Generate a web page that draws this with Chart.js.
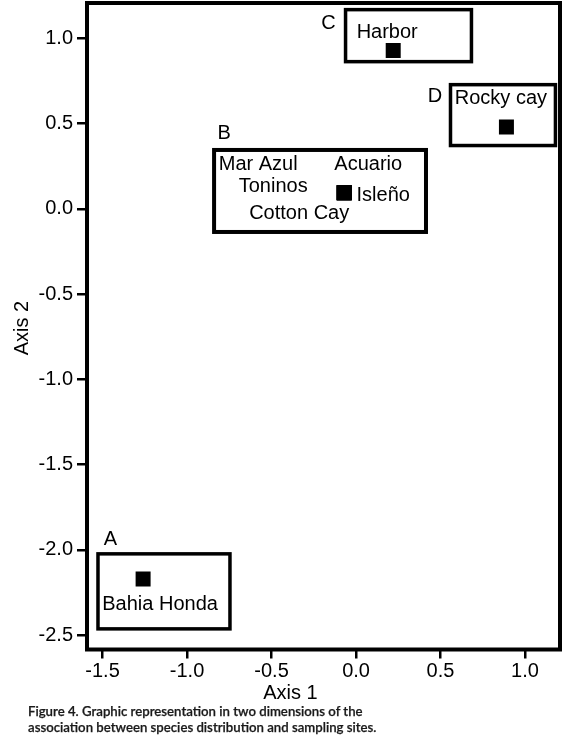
<!DOCTYPE html>
<html lang="en">
<head>
    <meta charset="UTF-8">
    <title>Figure 4</title>
    <script src="https://cdn.jsdelivr.net/npm/chart.js"></script>
    <style>
        html, body { margin: 0; padding: 0; background: #fff; }
        .janela { position: relative; width: 577px; height: 741px; }
        .legenda {
            position: absolute; left: 28px; top: 703px;
            font-family: Lato, "Open Sans", sans-serif; font-size: 13.2px;
            line-height: 16px; color: #1a1a1a; font-weight: 600;
            -webkit-text-stroke: 0.25px #1a1a1a;
        }
    </style>
</head>
<body>
    <div class="janela">
        <canvas id="grafico"></canvas>
        <div class="legenda">
            Figure 4. Graphic representation in two dimensions of the<br>
            association between species distribution and sampling sites.
        </div>
    </div>
<script>
    // sites and their scores on the two axes
    const sites = ['Bahia Honda', 'Mar Azul', 'Acuario', 'Toninos', 'Isleño', 'Cotton Cay', 'Harbor', 'Rocky cay'];
    const axis1 = [-1.26, -0.07, -0.07, -0.07, -0.07, -0.07, 0.22, 0.89];
    const axis2 = [-2.17, 0.095, 0.095, 0.095, 0.095, 0.095, 0.93, 0.48];

    // groups (boxes drawn round the sites, in axis units)
    const groups = ['A', 'B', 'C', 'D'];
    const groupX0 = [-1.527, -0.840, -0.062, 0.559];
    const groupX1 = [-0.746, 0.414, 0.683, 1.180];
    const groupYTop = [-2.023, 0.346, 1.169, 0.729];
    const groupYBottom = [-2.463, -0.135, 0.864, 0.372];

    const xTicks = [-1.5, -1.0, -0.5, 0.0, 0.5, 1.0];
    const yTicks = [1.0, 0.5, 0.0, -0.5, -1.0, -1.5, -2.0, -2.5];

    // text placement, pixels from the marker / box corner
    const labelOffset = {
        'Bahia Honda': [17, 24], 'Mar Azul': [-86, -29.5], 'Acuario': [24, -29.5],
        'Toninos': [-71, -7.5], 'Isleño': [39, 1.5], 'Cotton Cay': [-45, 19],
        'Harbor': [-6, -19.7], 'Rocky cay': [-5.5, -30.5]
    };
    const groupOffset = { A: [12.5, -15.7], B: [10, -18.3], C: [-17.2, 12], D: [-15.5, 10.8] };

    const fonte = '20px "Liberation Sans", Arial, sans-serif';

    const pontos = sites.map((s, i) => ({ x: axis1[i], y: axis2[i] }));

    const desenhos = {
        id: 'desenhos',
        afterDraw(chart) {
            const ctx = chart.ctx;
            const a = chart.chartArea;
            const sx = chart.scales.x, sy = chart.scales.y;
            ctx.save();
            ctx.strokeStyle = '#000';
            ctx.fillStyle = '#000';
            // frame
            ctx.lineWidth = 4;
            ctx.strokeRect(a.left, a.top, a.right - a.left, a.bottom - a.top);

            // group boxes + letters
            ctx.font = fonte;
            ctx.textBaseline = 'alphabetic';
            groups.forEach((g, i) => {
                const x0 = sx.getPixelForValue(groupX0[i]);
                const x1 = sx.getPixelForValue(groupX1[i]);
                const y0 = sy.getPixelForValue(groupYTop[i]);
                const y1 = sy.getPixelForValue(groupYBottom[i]);
                ctx.lineWidth = g === 'B' ? 4 : 3.5;
                ctx.strokeRect(x0, y0, x1 - x0, y1 - y0);
                ctx.textAlign = 'center';
                ctx.fillText(g, x0 + groupOffset[g][0], y0 + groupOffset[g][1] + 7);
            });

            // site names
            sites.forEach((s, i) => {
                const px = sx.getPixelForValue(axis1[i]);
                const py = sy.getPixelForValue(axis2[i]);
                ctx.textAlign = 'center';
                ctx.fillText(s, px + labelOffset[s][0], py + labelOffset[s][1] + 7);
            });

            // axis titles
            ctx.textAlign = 'center';
            ctx.fillText('Axis 1', 290.5, 699);
            ctx.translate(28, 328);
            ctx.rotate(-Math.PI / 2);
            ctx.fillText('Axis 2', 0, 0);
            ctx.restore();
        }
    };

    new Chart(document.getElementById('grafico'), {
        type: 'scatter',
        data: {
            datasets: [{
                label: 'Sites',
                data: pontos,
                pointStyle: 'rect',
                pointRadius: 10.6,
                pointHoverRadius: 10.6,
                backgroundColor: '#000',
                borderWidth: 0
            }]
        },
        options: {
            responsive: true,
            maintainAspectRatio: false,
            animation: false,
            layout: { autoPadding: false, padding: { left: 0, top: 3, right: 17, bottom: 0 } },
            plugins: { legend: { display: false }, tooltip: { enabled: false } },
            scales: {
                x: {
                    min: -1.592, max: 1.207,
                    afterBuildTicks: s => { s.ticks = xTicks.map(v => ({ value: v })); },
                    afterFit: s => { s.height = 91.5; s.paddingLeft = 0; s.paddingRight = 0; },
                    grid: { display: true, drawOnChartArea: false, drawTicks: true, tickLength: 9, color: '#000', lineWidth: 2.5 },
                    border: { display: false },
                    ticks: {
                        padding: 1, color: '#000', maxRotation: 0,
                        font: { family: '"Liberation Sans", Arial, sans-serif', size: 20 },
                        callback: v => v.toFixed(1)
                    }
                },
                y: {
                    min: -2.584, max: 1.208,
                    afterBuildTicks: s => { s.ticks = yTicks.map(v => ({ value: v })); },
                    afterFit: s => { s.width = 87; s.paddingTop = 0; s.paddingBottom = 0; },
                    grid: { display: true, drawOnChartArea: false, drawTicks: true, tickLength: 10, color: '#000', lineWidth: 2.5 },
                    border: { display: false },
                    ticks: {
                        padding: 4, color: '#000',
                        font: { family: '"Liberation Sans", Arial, sans-serif', size: 20 },
                        callback: v => v.toFixed(1)
                    }
                }
            }
        },
        plugins: [desenhos]
    });
</script>
</body>
</html>
